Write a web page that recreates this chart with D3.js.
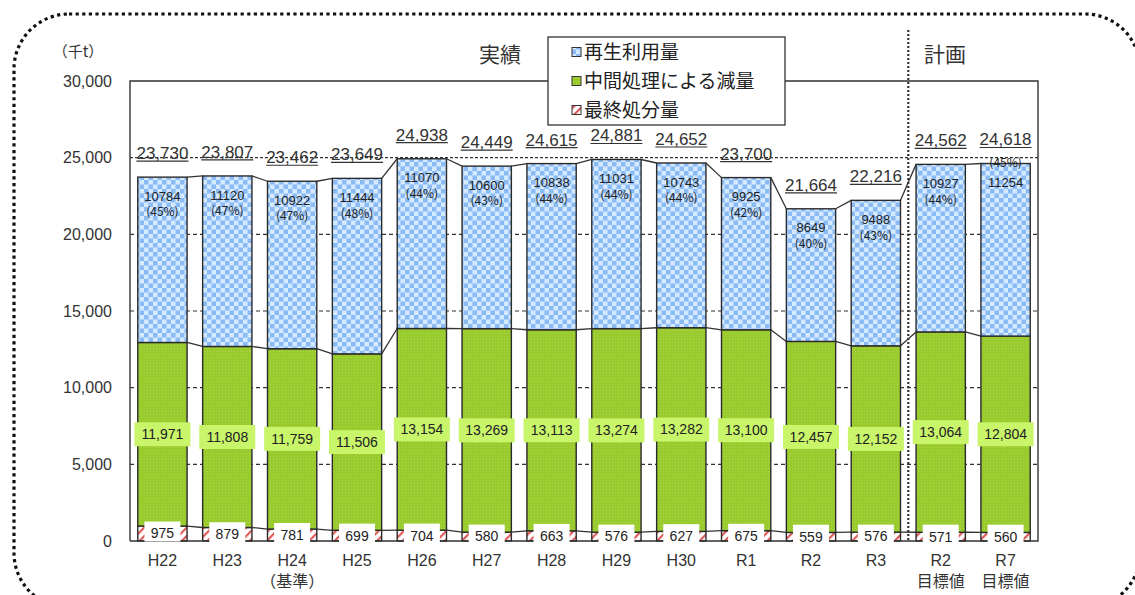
<html>
<head>
<meta charset="utf-8">
<script src="https://cdnjs.cloudflare.com/ajax/libs/d3/7.8.5/d3.min.js"></script>
<style>
  * { margin: 0; padding: 0; }
  body { background: #fff; width: 1135px; height: 595px; overflow: hidden; }
  text { font-family: "Liberation Sans", Arial, sans-serif; }
  .jp { font-family: "Noto Sans CJK JP", sans-serif; }
</style>
</head>
<body>
<svg id="viz" width="1135" height="595"></svg>
<script>
// ---- data ----
var categories = ["H22","H23","H24","H25","H26","H27","H28","H29","H30","R1","R2","R3","R2目標値","R7目標値"];
var subLabels  = ["","","（基準）","","","","","","","","","","目標値","目標値"];
var axisNames  = ["H22","H23","H24","H25","H26","H27","H28","H29","H30","R1","R2","R3","R2","R7"];
var finalDisposal = [975,879,781,699,704,580,663,576,627,675,559,576,571,560];
var reduction     = [11971,11808,11759,11506,13154,13269,13113,13274,13282,13100,12457,12152,13064,12804];
var recycled      = [10784,11120,10922,11444,11070,10600,10838,11031,10743,9925,8649,9488,10927,11254];
var recycledPct   = [45,47,47,48,44,43,44,44,44,42,40,43,44,45];
var totals        = [23730,23807,23462,23649,24938,24449,24615,24881,24652,23700,21664,22216,24562,24618];
var yTicks = [0,5000,10000,15000,20000,25000,30000];
var legendNames = ["再生利用量","中間処理による減量","最終処分量"];
var planStart = "R2目標値";
var pctAboveCat = "R7目標値";

var svg = d3.select("#viz");
var plotLeft = 130, plotRight = 1038, plotTop = 81, plotBottom = 541;

// outer dotted frame
svg.append("rect")
  .attr("x", 14).attr("y", 14).attr("width", 1126).attr("height", 594)
  .attr("rx", 55).attr("ry", 55)
  .style("fill", "none").style("stroke", "#111")
  .style("stroke-width", 3.2).style("stroke-dasharray", "3.2,3.4");

// patterns
var defs = svg.append("defs");
var pb = defs.append("pattern").attr("id", "pBlue").attr("patternUnits", "userSpaceOnUse")
  .attr("width", 9).attr("height", 9);
pb.append("rect").attr("width", 9).attr("height", 9).style("fill", "#d6eaff");
pb.append("rect").attr("width", 4.5).attr("height", 4.5).style("fill", "#8bbbf5");
pb.append("rect").attr("x", 4.5).attr("y", 4.5).attr("width", 4.5).attr("height", 4.5).style("fill", "#8bbbf5");

var pg = defs.append("pattern").attr("id", "pGreen").attr("patternUnits", "userSpaceOnUse")
  .attr("width", 3).attr("height", 3);
pg.append("rect").attr("width", 3).attr("height", 3).style("fill", "#9acb2e");
pg.append("rect").attr("width", 1).attr("height", 1).style("fill", "#acd64a");

var pr = defs.append("pattern").attr("id", "pRed").attr("patternUnits", "userSpaceOnUse")
  .attr("width", 6).attr("height", 6).attr("patternTransform", "rotate(45)");
pr.append("rect").attr("width", 6).attr("height", 6).style("fill", "#fff");
pr.append("rect").attr("width", 2.2).attr("height", 6).style("fill", "#e05a5a");

var x = d3.scaleBand().domain(categories).range([plotLeft, plotRight])
  .paddingInner(0.24).paddingOuter(0.12);
var y = d3.scaleLinear().domain([0, 30000]).range([plotBottom, plotTop]);
var bw = x.bandwidth();
var step = x.step();

// grid lines (dashed, behind bars)
svg.append("g").selectAll("line").data(yTicks.filter(function(t){ return t > 0 && t < 30000; }))
  .join("line")
  .attr("x1", plotLeft).attr("x2", plotRight)
  .attr("y1", function(d){ return y(d); }).attr("y2", function(d){ return y(d); })
  .style("stroke", "#333").style("stroke-width", 1.2)
  .style("stroke-dasharray", function(d){ return d == 25000 ? "3,2" : "4,3"; });

// y axis
var yAxis = svg.append("g").attr("transform", "translate(" + plotLeft + ",0)")
  .call(d3.axisLeft(y).tickValues(yTicks).tickFormat(d3.format(",")).tickSize(0).tickPadding(18));
yAxis.select(".domain").remove();
yAxis.selectAll("text").style("font-size", "16px").style("fill", "#333")
  .style("font-family", "'Liberation Sans', Arial, sans-serif");

// stacked bars
var stackData = categories.map(function(c, i) {
  return { cat: c, fin: finalDisposal[i], red: reduction[i], rec: recycled[i] };
});
var stack = d3.stack().keys(["fin", "red", "rec"])(stackData);
var fills = { fin: "url(#pRed)", red: "url(#pGreen)", rec: "url(#pBlue)" };

stack.forEach(function(layer) {
  svg.append("g").selectAll("rect").data(layer).join("rect")
    .attr("x", function(d){ return x(d.data.cat); })
    .attr("y", function(d){ return y(d[1]); })
    .attr("width", bw)
    .attr("height", function(d){ return y(d[0]) - y(d[1]); })
    .style("fill", fills[layer.key])
    .style("stroke", "#2a2a2a").style("stroke-width", 1.4);
});

// series lines between bars
stack.forEach(function(layer) {
  for (var i = 0; i < layer.length - 1; i++) {
    svg.append("line")
      .attr("x1", x(categories[i]) + bw).attr("x2", x(categories[i+1]))
      .attr("y1", y(layer[i][1])).attr("y2", y(layer[i+1][1]))
      .style("stroke", "#333").style("stroke-width", 1.3);
  }
});

// plot frame: top, right, left, bottom
svg.append("path")
  .attr("d", "M" + plotLeft + "," + plotBottom + "V" + plotTop + "H" + plotRight + "V" + plotBottom + "H" + plotLeft)
  .style("fill", "none").style("stroke", "#333").style("stroke-width", 1.4);

// divider between actual and plan
var divX = x(planStart) - (step - bw) / 2;
svg.append("line")
  .attr("x1", divX).attr("x2", divX).attr("y1", 30).attr("y2", plotBottom)
  .style("stroke", "#333").style("stroke-width", 2.2).style("stroke-dasharray", "2,2");

// green labels
var gl = svg.append("g").selectAll("g").data(stackData).join("g")
  .attr("transform", function(d){ return "translate(" + (x(d.cat) + bw/2) + "," + y(d.fin + d.red/2) + ")"; });
gl.append("rect").attr("x", -28).attr("y", -12).attr("width", 56).attr("height", 24)
  .style("fill", "#c8f56a");
gl.append("text").attr("dy", "0.35em").attr("text-anchor", "middle")
  .style("font-size", "14px").style("fill", "#222")
  .text(function(d){ return d3.format(",")(d.red); });

// red labels
var rl = svg.append("g").selectAll("g").data(stackData).join("g")
  .attr("transform", function(d){ return "translate(" + (x(d.cat) + bw/2) + "," + (y(d.fin/2)) + ")"; });
rl.append("rect").attr("x", -18).attr("y", -12).attr("width", 36).attr("height", 20)
  .style("fill", "#fff");
rl.append("text").attr("dy", "0.35em").attr("text-anchor", "middle")
  .style("font-size", "14px").style("fill", "#222")
  .text(function(d){ return d.fin; });

// blue labels
stackData.forEach(function(d, i) {
  var cx = x(d.cat) + bw/2, ty = y(d.fin + d.red + d.rec);
  svg.append("text").attr("x", cx).attr("y", ty + 19).attr("dy", "0.35em")
    .attr("text-anchor", "middle").style("font-size", "13px").style("fill", "#222")
    .text(d.rec);
  svg.append("text").attr("class", "jp").attr("x", cx)
    .attr("y", d.cat == pctAboveCat ? ty - 1 : ty + 35).attr("dy", "0.35em")
    .attr("text-anchor", "middle").style("font-size", "12px").style("fill", "#222")
    .text("(" + recycledPct[i] + "%)");
});

// totals, underlined
categories.forEach(function(c, i) {
  var cx = x(c) + bw/2, ty = y(totals[i]) - 24;
  var t = svg.append("text").attr("x", cx).attr("y", ty).attr("dy", "0.35em")
    .attr("text-anchor", "middle").style("font-size", "17px").style("fill", "#333")
    .text(d3.format(",")(totals[i]));
  var w = t.node().getComputedTextLength();
  svg.append("line").attr("x1", cx - w/2).attr("x2", cx + w/2)
    .attr("y1", ty + 8).attr("y2", ty + 8)
    .style("stroke", "#333").style("stroke-width", 1.2);
});

// x labels
categories.forEach(function(c, i) {
  var cx = x(c) + bw/2;
  svg.append("text").attr("x", cx).attr("y", 560).attr("dy", "0.35em")
    .attr("text-anchor", "middle").style("font-size", "16px").style("fill", "#333")
    .text(axisNames[i]);
  if (subLabels[i]) {
    svg.append("text").attr("class", "jp").attr("x", cx).attr("y", 581).attr("dy", "0.35em")
      .attr("text-anchor", "middle").style("font-size", "16px").style("fill", "#333")
      .text(subLabels[i]);
  }
});

// unit label and section titles
svg.append("text").attr("class", "jp").attr("x", 78).attr("y", 52).attr("dy", "0.35em")
  .attr("text-anchor", "middle").style("font-size", "15px").style("fill", "#333").text("（千t）");
svg.append("text").attr("class", "jp").attr("x", 500).attr("y", 55).attr("dy", "0.35em")
  .attr("text-anchor", "middle").style("font-size", "21px").style("fill", "#333").text("実績");
svg.append("text").attr("class", "jp").attr("x", 945).attr("y", 55).attr("dy", "0.35em")
  .attr("text-anchor", "middle").style("font-size", "21px").style("fill", "#333").text("計画");

// legend
var lg = svg.append("g");
lg.append("rect").attr("x", 548).attr("y", 37).attr("width", 237).attr("height", 88)
  .style("fill", "#fff").style("stroke", "#333").style("stroke-width", 1.3);
var legFills = ["url(#pBlue)", "url(#pGreen)", "url(#pRed)"];
legendNames.forEach(function(n, i) {
  var cy = 52 + i * 29;
  lg.append("rect").attr("x", 572).attr("y", cy - 4.5).attr("width", 9).attr("height", 9)
    .style("fill", legFills[i]).style("stroke", "#333").style("stroke-width", 1);
  lg.append("text").attr("class", "jp").attr("x", 584).attr("y", cy).attr("dy", "0.35em")
    .style("font-size", "19px").style("fill", "#222").text(n);
});
</script>
</body>
</html>
